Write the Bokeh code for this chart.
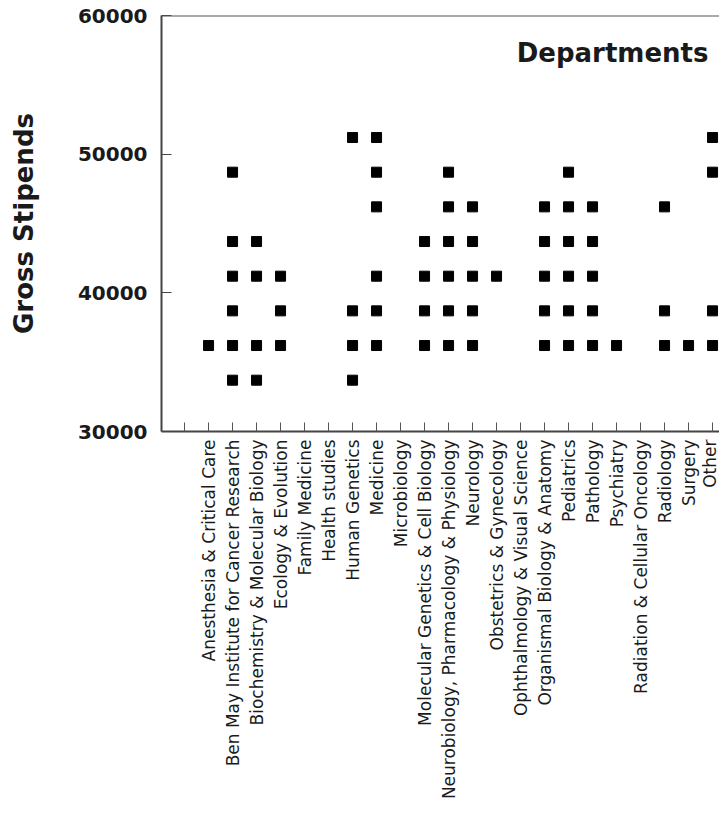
import math
from bokeh.plotting import figure
from bokeh.models import Range1d, FixedTicker, Label, Span, ColumnDataSource
from bokeh.embed import file_html
from bokeh.resources import INLINE

categories = [
    "Anesthesia & Critical Care",
    "Ben May Institute for Cancer Research",
    "Biochemistry & Molecular Biology",
    "Ecology & Evolution",
    "Family Medicine",
    "Health studies",
    "Human Genetics",
    "Medicine",
    "Microbiology",
    "Molecular Genetics & Cell Biology",
    "Neurobiology, Pharmacology & Physiology",
    "Neurology",
    "Obstetrics & Gynecology",
    "Ophthalmology & Visual Science",
    "Organismal Biology & Anatomy",
    "Pediatrics",
    "Pathology",
    "Psychiatry",
    "Radiation & Cellular Oncology",
    "Radiology",
    "Surgery",
    "Other",
]

point_dept = (
    ["Anesthesia & Critical Care"] * 1
    + ["Ben May Institute for Cancer Research"] * 6
    + ["Biochemistry & Molecular Biology"] * 4
    + ["Ecology & Evolution"] * 3
    + ["Human Genetics"] * 4
    + ["Medicine"] * 6
    + ["Molecular Genetics & Cell Biology"] * 4
    + ["Neurobiology, Pharmacology & Physiology"] * 6
    + ["Neurology"] * 5
    + ["Obstetrics & Gynecology"] * 1
    + ["Organismal Biology & Anatomy"] * 5
    + ["Pediatrics"] * 6
    + ["Pathology"] * 5
    + ["Psychiatry"] * 1
    + ["Radiology"] * 3
    + ["Surgery"] * 1
    + ["Other"] * 4
)

point_stipend = (
    [36200]
    + [48700, 43700, 41200, 38700, 36200, 33700]
    + [43700, 41200, 36200, 33700]
    + [41200, 38700, 36200]
    + [51200, 38700, 36200, 33700]
    + [51200, 48700, 46200, 41200, 38700, 36200]
    + [43700, 41200, 38700, 36200]
    + [48700, 46200, 43700, 41200, 38700, 36200]
    + [46200, 43700, 41200, 38700, 36200]
    + [41200]
    + [46200, 43700, 41200, 38700, 36200]
    + [48700, 46200, 43700, 41200, 38700, 36200]
    + [46200, 43700, 41200, 38700, 36200]
    + [36200]
    + [46200, 38700, 36200]
    + [36200]
    + [51200, 48700, 38700, 36200]
)

y_ticks = [30000, 40000, 50000, 60000]

x_pos = [categories.index(d) + 1 for d in point_dept]
source = ColumnDataSource(dict(x=x_pos, y=point_stipend))

AX = "#444444"
TXT = "#1a1a1a"

p = figure(
    width=719, height=802,
    output_backend="svg", toolbar_location=None,
    x_range=Range1d(-0.96, 22.29), y_range=Range1d(30000, 60000),
    min_border_left=161, min_border_top=15, min_border_right=0, min_border_bottom=371,
)
p.outline_line_color = None
p.grid.visible = False
p.background_fill_color = "white"
p.border_fill_color = "white"

p.scatter("x", "y", source=source, marker="square", size=10,
          fill_color="black", line_color="black", line_width=1)

# top frame line
p.add_layout(Span(location=60000, dimension="width", line_color="#555555", line_width=2))

xa = p.xaxis[0]
xa.ticker = FixedTicker(ticks=list(range(0, len(categories) + 1)))
xa.major_label_overrides = {0: ""} | {i + 1: c for i, c in enumerate(categories)}
xa.major_label_orientation = math.pi / 2
xa.major_label_text_font = "DejaVu Sans"
xa.major_label_text_font_size = "17px"
xa.major_label_text_color = TXT
xa.major_label_standoff = 8
xa.major_tick_in = 9
xa.major_tick_out = 0
xa.major_tick_line_color = "#555555"
xa.minor_tick_line_color = None
xa.axis_line_color = AX
xa.axis_line_width = 2

ya = p.yaxis[0]
ya.ticker = FixedTicker(ticks=y_ticks)
ya.major_label_text_font = "DejaVu Sans"
ya.major_label_text_font_style = "bold"
ya.major_label_text_font_size = "20px"
ya.major_label_text_color = TXT
ya.major_label_standoff = 14
ya.major_tick_in = 10
ya.major_tick_out = 0
ya.major_tick_line_color = AX
ya.minor_tick_line_color = None
ya.axis_line_color = AX
ya.axis_line_width = 2
ya.axis_label = "Gross Stipends"
ya.axis_label_text_font = "DejaVu Sans"
ya.axis_label_text_font_style = "bold"
ya.axis_label_text_font_size = "26px"
ya.axis_label_text_color = TXT
ya.axis_label_standoff = 36

p.add_layout(Label(x=21.83, y=57300, text="Departments", text_align="right",
                   text_baseline="alphabetic", text_font="DejaVu Sans",
                   text_font_style="bold", text_font_size="26px", text_color=TXT))

open("out.html", "w").write(file_html(p, INLINE))
